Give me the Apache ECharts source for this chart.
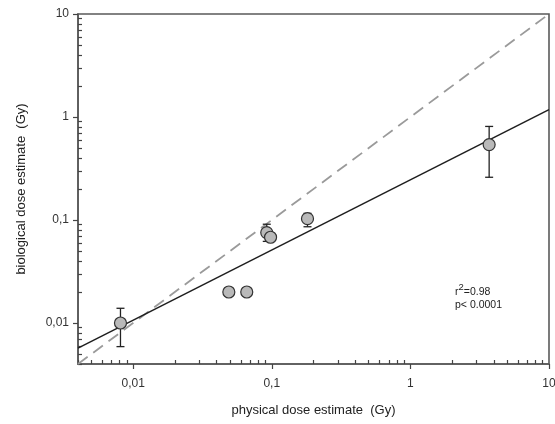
<!DOCTYPE html>
<html>
<head>
<meta charset="utf-8">
<script src="https://cdn.jsdelivr.net/npm/echarts@6/dist/echarts.min.js"></script>
<style>
  html, body { margin: 0; padding: 0; background: #fff; }
  #chart { width: 555px; height: 424px; }
</style>
</head>
<body>
<div id="chart"></div>
<script>
// measured points (physical vs biological dose, Gy)
const physical = [0.0081, 0.049, 0.066, 0.092, 0.098, 0.181, 3.7]
const biological = [0.010, 0.020, 0.020, 0.0755, 0.068, 0.103, 0.54]
// error bar ends, null = none drawn
const errLow = [0.0059, null, null, 0.062, null, 0.086, 0.26]
const errHigh = [0.0139, null, null, 0.091, null, 0.116, 0.81]

// line of identity and the regression fit (end points at axis limits)
const identityLine = [[0.004, 0.004], [10, 10]]
const fitLine = [[0.004, 0.0057], [10, 1.18]]

const axisMin = 0.004
const axisMax = 10
const majorTicks = [0.01, 0.1, 1, 10]
const minorTicks = [
  0.004, 0.005, 0.006, 0.007, 0.008, 0.009,
  0.02, 0.03, 0.04, 0.05, 0.06, 0.07, 0.08, 0.09,
  0.2, 0.3, 0.4, 0.5, 0.6, 0.7, 0.8, 0.9,
  2, 3, 4, 5, 6, 7, 8, 9
]

const fmt = v => String(v).replace('.', ',')

const chart = echarts.init(document.getElementById('chart'))

const axisLineStyle = { color: '#5a5a5a', width: 1.6 }
const fontFamily = 'Liberation Sans, Arial, sans-serif'

const baseAxis = {
  type: 'log',
  logBase: 10,
  min: axisMin,
  max: axisMax,
  splitLine: { show: false }
}

const option = {
  animation: false,
  grid: {
    left: 78, right: 6, top: 14, bottom: 60,
    outerBoundsMode: 'none',
    show: true,
    borderColor: '#5a5a5a',
    borderWidth: 1.6
  },
  xAxis: [
    {
      ...baseAxis,
      position: 'bottom',
      name: 'physical dose estimate  (Gy)',
      nameLocation: 'middle',
      nameGap: 40,
      nameTextStyle: { fontSize: 13, color: '#222', fontFamily },
      axisLine: { lineStyle: axisLineStyle },
      axisTick: { customValues: majorTicks, length: 5, lineStyle: { color: '#444', width: 1.2 } },
      axisLabel: { customValues: majorTicks, formatter: fmt, margin: 14, fontSize: 12, color: '#333', fontFamily }
    },
    {
      ...baseAxis,
      position: 'bottom',
      offset: 0,
      axisLine: { show: false },
      axisTick: { customValues: minorTicks, inside: true, length: 4, lineStyle: { color: '#444', width: 1.2 } },
      axisLabel: { show: false }
    }
  ],
  yAxis: [
    {
      ...baseAxis,
      position: 'left',
      name: 'biological dose estimate  (Gy)',
      nameLocation: 'middle',
      nameGap: 50,
      nameTextStyle: { fontSize: 13, color: '#222', fontFamily },
      axisLine: { lineStyle: axisLineStyle },
      axisTick: { customValues: majorTicks, length: 5, lineStyle: { color: '#444', width: 1.2 } },
      axisLabel: { customValues: majorTicks, formatter: fmt, margin: 9, fontSize: 12, color: '#333', fontFamily }
    },
    {
      ...baseAxis,
      position: 'left',
      offset: 0,
      axisLine: { show: false },
      axisTick: { customValues: minorTicks, inside: true, length: 4, lineStyle: { color: '#444', width: 1.2 } },
      axisLabel: { show: false }
    }
  ],
  graphic: [
    {
      type: 'text',
      left: 455,
      top: 282,
      style: {
        text: '{r|r}{sup|2}{r|=0.98}',
        fontFamily,
        fill: '#222',
        rich: {
          r: { fontSize: 10.5, fontFamily, fill: '#222', verticalAlign: 'bottom', lineHeight: 16 },
          sup: { fontSize: 9.5, fontFamily, fill: '#222', verticalAlign: 'top', lineHeight: 10 }
        }
      }
    },
    {
      type: 'text',
      left: 455,
      top: 300,
      style: { text: 'p< 0.0001', fontSize: 10.5, fontFamily, fill: '#222' }
    }
  ],
  series: [
    {
      type: 'line',
      data: identityLine,
      symbol: 'none',
      lineStyle: { color: '#9a9a9a', width: 1.8, type: [12, 7] },
      z: 2
    },
    {
      type: 'line',
      data: fitLine,
      symbol: 'none',
      lineStyle: { color: '#1e1e1e', width: 1.5 },
      z: 3
    },
    {
      type: 'custom',
      data: physical.map((x, i) => [x, errLow[i], errHigh[i]]).filter(d => d[1] != null),
      renderItem: (params, api) => {
        const lo = api.coord([api.value(0), api.value(1)])
        const hi = api.coord([api.value(0), api.value(2)])
        const cap = 4
        const style = { stroke: '#222', lineWidth: 1.3 }
        return {
          type: 'group',
          children: [
            { type: 'line', shape: { x1: lo[0], y1: lo[1], x2: hi[0], y2: hi[1] }, style },
            { type: 'line', shape: { x1: lo[0] - cap, y1: lo[1], x2: lo[0] + cap, y2: lo[1] }, style },
            { type: 'line', shape: { x1: hi[0] - cap, y1: hi[1], x2: hi[0] + cap, y2: hi[1] }, style }
          ]
        }
      },
      z: 4
    },
    {
      type: 'scatter',
      data: physical.map((x, i) => [x, biological[i]]),
      symbol: 'circle',
      symbolSize: 12,
      itemStyle: { color: '#b9b9b9', borderColor: '#333', borderWidth: 1.2, opacity: 1 },
      z: 5
    }
  ]
}

chart.setOption(option)
</script>
</body>
</html>
